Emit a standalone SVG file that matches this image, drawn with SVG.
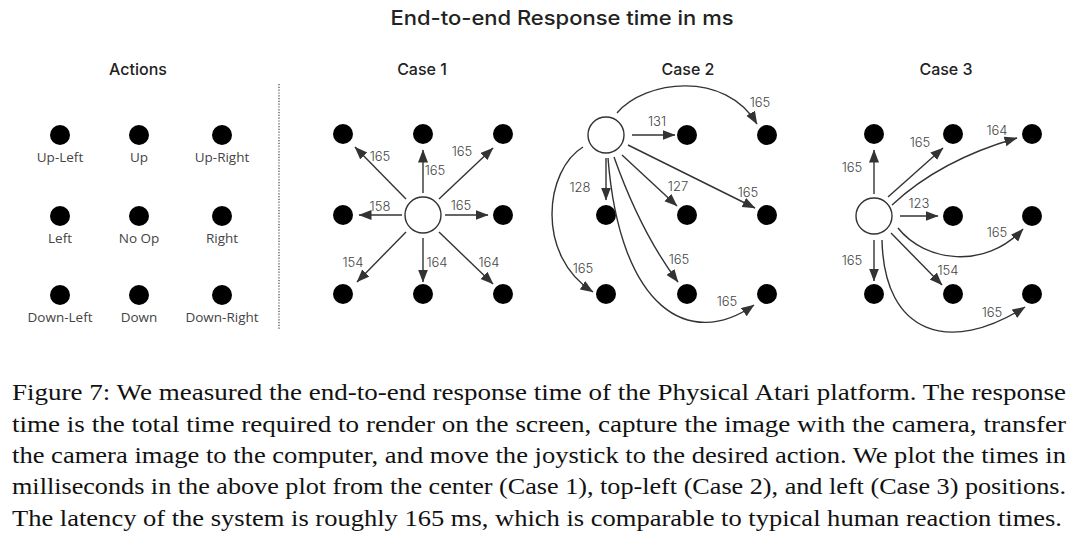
<svg xmlns="http://www.w3.org/2000/svg" width="1080" height="545" viewBox="0 0 1080 545">
<style>
.title{font-family:Inter,"Liberation Sans",sans-serif;font-size:20px;font-weight:500;fill:#222;text-anchor:middle}
.head{font-family:Inter,"Liberation Sans",sans-serif;font-size:16px;font-weight:500;fill:#222;text-anchor:middle}
.lab{font-family:"Open Sans","Liberation Sans",sans-serif;font-size:13.5px;fill:#444;text-anchor:middle}
.el{font-family:Inter,"Liberation Sans",sans-serif;font-size:13px;font-weight:300;fill:#444;text-anchor:middle}
.dot{fill:#000}
.hub{fill:#fff;stroke:#333;stroke-width:1.4}
.e{fill:none;stroke:#333;stroke-width:1.4;marker-end:url(#ah)}
.cap{font-family:"Liberation Serif","Times New Roman",serif;font-size:23.5px;fill:#111}
</style>
<defs>
<marker id="ah" markerUnits="userSpaceOnUse" markerWidth="14" markerHeight="11" refX="12.5" refY="5" orient="auto">
<path d="M0,0 L13,5 L0,10 z" fill="#333"/>
</marker>
</defs>
<rect width="1080" height="545" fill="#fff"/>
<text class="title" x="562" y="25" textLength="343" lengthAdjust="spacingAndGlyphs">End-to-end Response time in ms</text>
<text class="head" x="138" y="75">Actions</text>
<text class="head" x="422" y="75">Case 1</text>
<text class="head" x="688" y="75">Case 2</text>
<text class="head" x="946" y="75">Case 3</text>
<line x1="279" y1="84" x2="279" y2="330" stroke="#444" stroke-width="1.2" stroke-dasharray="1.2,1.6"/>
<g id="actions">
<g id="a-ul"><circle class="dot" cx="60" cy="135" r="10"/><text class="lab" x="60" y="162">Up-Left</text></g>
<g id="a-u"><circle class="dot" cx="139" cy="135" r="10"/><text class="lab" x="139" y="162">Up</text></g>
<g id="a-ur"><circle class="dot" cx="222" cy="135" r="10"/><text class="lab" x="222" y="162">Up-Right</text></g>
<g id="a-l"><circle class="dot" cx="60" cy="216" r="10"/><text class="lab" x="60" y="243">Left</text></g>
<g id="a-n"><circle class="dot" cx="139" cy="216" r="10"/><text class="lab" x="139" y="243">No Op</text></g>
<g id="a-r"><circle class="dot" cx="222" cy="216" r="10"/><text class="lab" x="222" y="243">Right</text></g>
<g id="a-dl"><circle class="dot" cx="60" cy="295" r="10"/><text class="lab" x="60" y="322">Down-Left</text></g>
<g id="a-d"><circle class="dot" cx="139" cy="295" r="10"/><text class="lab" x="139" y="322">Down</text></g>
<g id="a-dr"><circle class="dot" cx="222" cy="295" r="10"/><text class="lab" x="222" y="322">Down-Right</text></g>
</g>
<g id="case1">
<g id="c1-ul"><circle class="dot" cx="343" cy="134" r="10"/></g>
<g id="c1-u"><circle class="dot" cx="423" cy="134" r="10"/></g>
<g id="c1-ur"><circle class="dot" cx="503" cy="134" r="10"/></g>
<g id="c1-l"><circle class="dot" cx="343" cy="215" r="10"/></g>
<g id="c1-c"><circle class="hub" cx="423" cy="215" r="18"/></g>
<g id="c1-r"><circle class="dot" cx="503" cy="215" r="10"/></g>
<g id="c1-dl"><circle class="dot" cx="343" cy="294" r="10"/></g>
<g id="c1-d"><circle class="dot" cx="423" cy="294" r="10"/></g>
<g id="c1-dr"><circle class="dot" cx="503" cy="294" r="10"/></g>
</g>
<g id="case2">
<g id="c2-c"><circle class="hub" cx="606" cy="135" r="18"/></g>
<g id="c2-u"><circle class="dot" cx="687" cy="135" r="10"/></g>
<g id="c2-ur"><circle class="dot" cx="767" cy="135" r="10"/></g>
<g id="c2-l"><circle class="dot" cx="606" cy="215" r="10"/></g>
<g id="c2-m"><circle class="dot" cx="687" cy="215" r="10"/></g>
<g id="c2-r"><circle class="dot" cx="767" cy="215" r="10"/></g>
<g id="c2-dl"><circle class="dot" cx="606" cy="294" r="10"/></g>
<g id="c2-d"><circle class="dot" cx="687" cy="294" r="10"/></g>
<g id="c2-dr"><circle class="dot" cx="767" cy="294" r="10"/></g>
</g>
<g id="case3">
<g id="c3-ul"><circle class="dot" cx="874" cy="134" r="10"/></g>
<g id="c3-u"><circle class="dot" cx="953" cy="134" r="10"/></g>
<g id="c3-ur"><circle class="dot" cx="1032" cy="134" r="10"/></g>
<g id="c3-c"><circle class="hub" cx="874" cy="216" r="18"/></g>
<g id="c3-m"><circle class="dot" cx="953" cy="216" r="10"/></g>
<g id="c3-r"><circle class="dot" cx="1032" cy="216" r="10"/></g>
<g id="c3-dl"><circle class="dot" cx="874" cy="294" r="10"/></g>
<g id="c3-d"><circle class="dot" cx="953" cy="294" r="10"/></g>
<g id="c3-dr"><circle class="dot" cx="1032" cy="294" r="10"/></g>
</g>
<g id="connectors">
<path class="e" d="M423,193 L423,150"/>
<path class="e" d="M406,199 L355,147"/>
<path class="e" d="M439,199 L493,148"/>
<path class="e" d="M402,215 L359,215"/>
<path class="e" d="M445,215 L488,215"/>
<path class="e" d="M406,232 L357,282"/>
<path class="e" d="M423,238 L423,282"/>
<path class="e" d="M439,232 L493,284"/>
<path class="e" d="M632,135 L675,135"/>
<path class="e" d="M606,158 L606,200"/>
<path class="e" d="M622,155 L677,206"/>
<path class="e" d="M628,145 L755,208"/>
<path class="e" d="M614,157 Q641,233 678,282"/>
<path class="e" d="M608,158 C620,310 690,350 754,305"/>
<path class="e" d="M617,113 C645,80 725,70 757,124"/>
<path class="e" d="M583,147 C545,170 535,255 593,292"/>
<path class="e" d="M874,194 L874,150"/>
<path class="e" d="M888,197 L943,148"/>
<path class="e" d="M892,205 Q940,160 1017,138"/>
<path class="e" d="M900,216 L938,216"/>
<path class="e" d="M898,228 C925,262 985,270 1023,229"/>
<path class="e" d="M891,233 L942,285"/>
<path class="e" d="M874,240 L874,281"/>
<path class="e" d="M882,240 C884,335 950,355 1025,307"/>
</g>
<g id="edge-labels">
<text class="el" x="435" y="175">165</text>
<text class="el" x="380" y="161">165</text>
<text class="el" x="462" y="156">165</text>
<text class="el" x="380" y="211">158</text>
<text class="el" x="461" y="210">165</text>
<text class="el" x="353" y="267">154</text>
<text class="el" x="437" y="267">164</text>
<text class="el" x="489" y="267">164</text>
<text class="el" x="657" y="126">131</text>
<text class="el" x="580" y="192">128</text>
<text class="el" x="678" y="191">127</text>
<text class="el" x="748" y="197">165</text>
<text class="el" x="679" y="264">165</text>
<text class="el" x="727" y="306">165</text>
<text class="el" x="760" y="107">165</text>
<text class="el" x="583" y="273">165</text>
<text class="el" x="852" y="172">165</text>
<text class="el" x="920" y="147">165</text>
<text class="el" x="997" y="135">164</text>
<text class="el" x="919" y="208">123</text>
<text class="el" x="997" y="237">165</text>
<text class="el" x="948" y="275">154</text>
<text class="el" x="852" y="265">165</text>
<text class="el" x="992" y="317">165</text>
</g>
<g id="caption">
<text class="cap" x="12" y="400" textLength="1054" lengthAdjust="spacingAndGlyphs">Figure 7: We measured the end-to-end response time of the Physical Atari platform. The response</text>
<text class="cap" x="12" y="432" textLength="1054" lengthAdjust="spacingAndGlyphs">time is the total time required to render on the screen, capture the image with the camera, transfer</text>
<text class="cap" x="12" y="463" textLength="1054" lengthAdjust="spacingAndGlyphs">the camera image to the computer, and move the joystick to the desired action. We plot the times in</text>
<text class="cap" x="12" y="494" textLength="1054" lengthAdjust="spacingAndGlyphs">milliseconds in the above plot from the center (Case 1), top-left (Case 2), and left (Case 3) positions.</text>
<text class="cap" x="12" y="526" textLength="1050" lengthAdjust="spacingAndGlyphs">The latency of the system is roughly 165 ms, which is comparable to typical human reaction times.</text>
</g>
</svg>
